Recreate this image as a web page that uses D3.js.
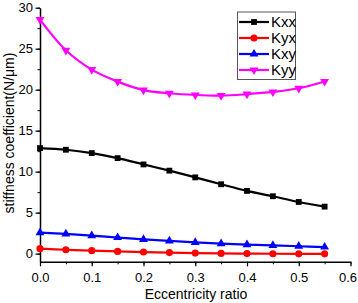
<!DOCTYPE html>
<html>
<head>
<meta charset="utf-8">
<script src="https://cdn.jsdelivr.net/npm/d3@7"></script>
<style>
  body { margin: 0; background: #fff; }
  svg { display: block; }
  text { font-family: "Liberation Sans", Arial, sans-serif; }
</style>
</head>
<body>
<svg id="chart" width="358" height="303"></svg>
<script>
// data
const ecc = [0, 0.05, 0.1, 0.15, 0.2, 0.25, 0.3, 0.35, 0.4, 0.45, 0.5, 0.55];
const kxx = [12.87, 12.67, 12.26, 11.65, 10.88, 10.12, 9.3, 8.46, 7.65, 7.0, 6.3, 5.73];
const kyx = [0.6, 0.47, 0.36, 0.27, 0.19, 0.12, 0.06, 0.02, 0.0, -0.02, -0.03, -0.03];
const kxy = [2.56, 2.4, 2.2, 1.96, 1.73, 1.55, 1.37, 1.22, 1.1, 1.0, 0.9, 0.8];
const kyy = [28.54, 24.8, 22.44, 20.98, 19.95, 19.56, 19.35, 19.27, 19.45, 19.72, 20.17, 21.0];
const xTicks = [0, 0.1, 0.2, 0.3, 0.4, 0.5, 0.6];
const yTicks = [0, 5, 10, 15, 20, 25, 30];

const series = [
    {name: "Kxx", values: kxx, color: "#000000", marker: "square"},
    {name: "Kyx", values: kyx, color: "#ff0000", marker: "circle"},
    {name: "Kxy", values: kxy, color: "#0000ff", marker: "triangle"},
    {name: "Kyy", values: kyy, color: "#ff00ff", marker: "triangleDown"}
];

const svg = d3.select("#chart");

// área del gráfico
const x = d3.scaleLinear().domain([0, 0.6]).range([40, 350.5]);
const y = d3.scaleLinear().domain([-1, 30]).range([261.8, 7.7]);

// ejes con marcas menores
const xMinor = d3.range(0, 0.6001, 0.05).map(v => +v.toFixed(2));
const yMinor = d3.range(0, 30.001, 2.5);

svg.append("g")
    .attr("transform", "translate(0," + y(-1) + ")")
    .call(d3.axisBottom(x).tickValues(xMinor).tickSize(2.5).tickFormat(""))
    .call(g => g.select(".domain").remove());

const gx = svg.append("g")
    .attr("transform", "translate(0," + y(-1) + ")")
    .call(d3.axisBottom(x).tickValues(xTicks).tickSize(4.5).tickSizeOuter(0).tickFormat(d3.format(".1f")));
gx.select(".domain").attr("stroke-width", 1.5);
gx.selectAll(".tick line").attr("stroke-width", 1.2);
gx.selectAll(".tick text").attr("font-size", "13px").attr("dy", "0.95em").attr("fill", "#000");
// la última etiqueta se acerca un poco para que no se corte en el borde
gx.selectAll(".tick text").filter(d => d === 0.6).attr("dx", -3);

svg.append("g")
    .attr("transform", "translate(" + x(0) + ",0)")
    .call(d3.axisLeft(y).tickValues(yMinor).tickSize(2.5).tickFormat(""))
    .call(g => g.select(".domain").remove());

const gy = svg.append("g")
    .attr("transform", "translate(" + x(0) + ",0)")
    .call(d3.axisLeft(y).tickValues(yTicks).tickSize(4.5).tickSizeOuter(0));
gy.select(".domain").attr("stroke-width", 1.5);
gy.selectAll(".tick line").attr("stroke-width", 1.2);
gy.selectAll(".tick text").attr("font-size", "13px").attr("x", -7).attr("fill", "#000");

// títulos de ejes
svg.append("text")
    .attr("x", 196)
    .attr("y", 299)
    .attr("text-anchor", "middle")
    .style("font-size", "14px")
    .text("Eccentricity ratio");

svg.append("text")
    .attr("transform", "translate(14," + 133 + ") rotate(-90)")
    .attr("text-anchor", "middle")
    .style("font-size", "14px")
    .text("stiffness coefficient(N/\u03bcm)");

// símbolos de los marcadores
const symbolFor = {
    square: d3.symbol().type(d3.symbolSquare).size(34),
    circle: d3.symbol().type(d3.symbolCircle).size(40),
    triangle: d3.symbol().type(d3.symbolTriangle).size(34),
    triangleDown: d3.symbol().type(d3.symbolTriangle).size(34)
};

const line = d3.line()
    .x((d, i) => x(ecc[i]))
    .y(d => y(d))
    .curve(d3.curveCatmullRom.alpha(0.5));

series.forEach(s => {
    svg.append("path")
        .attr("d", line(s.values))
        .attr("fill", "none")
        .attr("stroke", s.color)
        .attr("stroke-width", 2.2);

    svg.append("g")
        .selectAll("path")
        .data(s.values)
        .enter()
        .append("path")
        .attr("d", symbolFor[s.marker])
        .attr("transform", (d, i) => "translate(" + x(ecc[i]) + "," + y(d) + ")" + (s.marker === "triangleDown" ? " rotate(180)" : ""))
        .attr("fill", s.color);
});

// leyenda
const legend = svg.append("g").attr("transform", "translate(237.5,12)");
legend.append("rect")
    .attr("width", 58)
    .attr("height", 67.5)
    .attr("fill", "#fff")
    .attr("stroke", "#555")
    .attr("stroke-width", 1);

series.forEach((s, i) => {
    const item = legend.append("g").attr("transform", "translate(0," + (10 + i * 16) + ")");
    item.append("line")
        .attr("x1", 1.5).attr("x2", 31.5)
        .attr("stroke", s.color)
        .attr("stroke-width", 2.2);
    item.append("path")
        .attr("d", symbolFor[s.marker])
        .attr("transform", "translate(16.5,0)" + (s.marker === "triangleDown" ? " rotate(180)" : ""))
        .attr("fill", s.color);
    item.append("text")
        .attr("x", 33.5)
        .attr("dy", "0.36em")
        .style("font-size", "15px")
        .text(s.name);
});
</script>
</body>
</html>
